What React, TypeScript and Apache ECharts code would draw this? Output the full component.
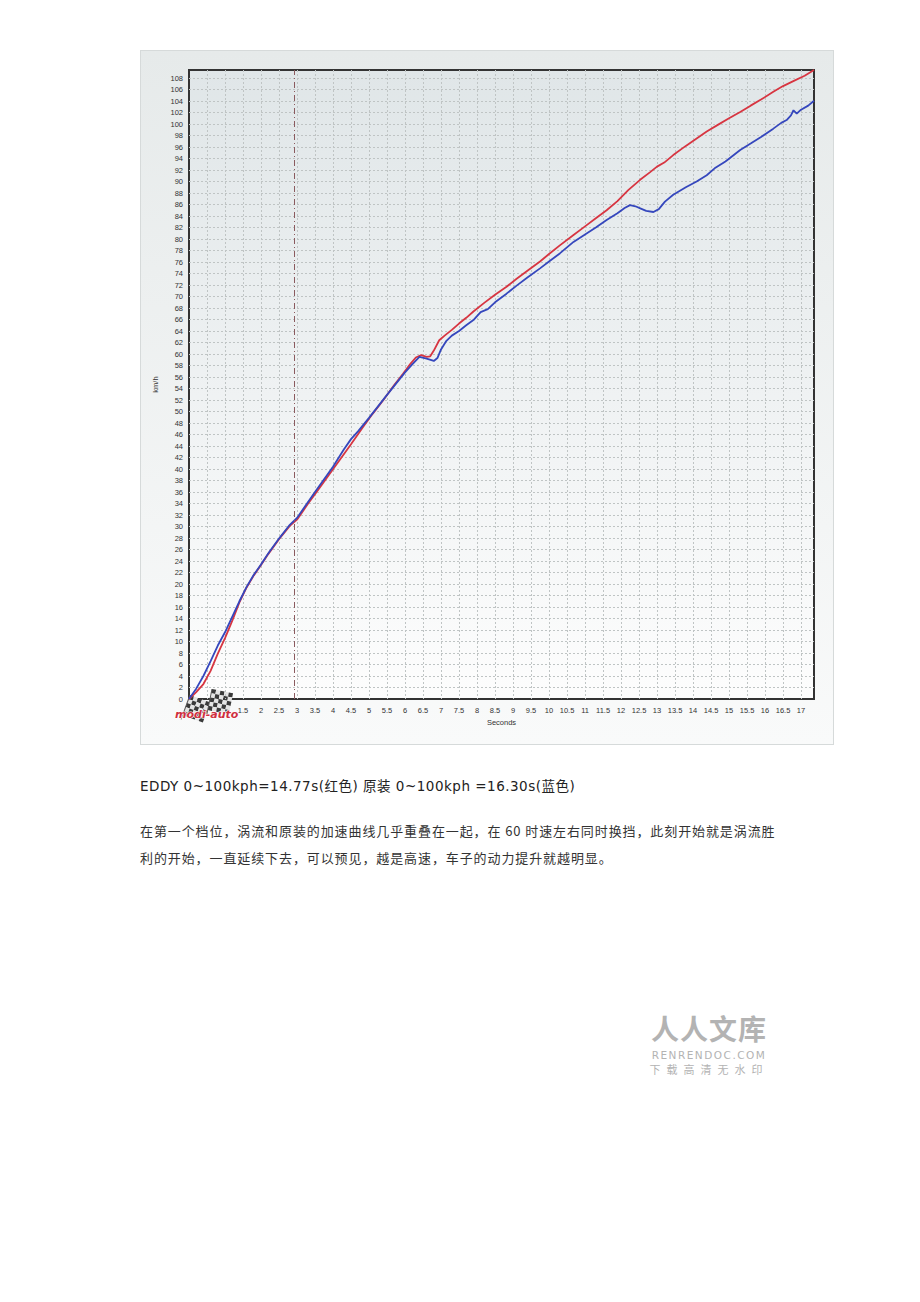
import React, { useEffect, useRef } from "react";
import * as echarts from "echarts";

// ---- data (seconds, km/h) ----
const eddyTimes = [0, 0.2, 0.4, 0.6, 0.8, 1.0, 1.2, 1.4, 1.6, 1.8, 2.0, 2.2, 2.5, 2.8, 3.0, 3.3, 3.6, 3.9, 4.2, 4.5, 4.8, 5.1, 5.4, 5.7, 5.95, 6.15, 6.3, 6.45, 6.6, 6.7, 6.8, 6.95, 7.1, 7.3, 7.5, 7.7, 7.9, 8.2, 8.5, 8.82, 9.1, 9.4, 9.75, 10.0, 10.3, 10.68, 11.0, 11.3, 11.6, 11.9, 12.2, 12.53, 12.8, 13.0, 13.2, 13.45, 13.8, 14.1, 14.38, 14.7, 15.0, 15.31, 15.6, 15.9, 16.23, 16.5, 16.8, 17.1, 17.36];
const eddySpeeds = [0, 1.2, 2.6, 4.9, 7.9, 10.6, 13.6, 16.8, 19.4, 21.5, 23.3, 25.2, 27.8, 30.1, 31.2, 33.9, 36.5, 39.1, 41.7, 44.3, 47.0, 49.6, 52.0, 54.6, 56.6, 58.3, 59.4, 59.8, 59.5, 59.6, 60.6, 62.4, 63.2, 64.2, 65.3, 66.3, 67.4, 68.9, 70.3, 71.7, 73.1, 74.5, 76.1, 77.4, 78.9, 80.7, 82.2, 83.6, 85.0, 86.6, 88.5, 90.3, 91.6, 92.6, 93.3, 94.6, 96.2, 97.5, 98.7, 99.9, 101.0, 102.1, 103.2, 104.3, 105.6, 106.6, 107.5, 108.4, 109.4];

const stockTimes = [0, 0.2, 0.4, 0.6, 0.8, 1.0, 1.2, 1.4, 1.6, 1.8, 2.0, 2.2, 2.5, 2.8, 3.0, 3.5, 4.0, 4.3, 4.5, 4.7, 5.0, 5.5, 6.0, 6.2, 6.4, 6.6, 6.8, 6.9, 7.0, 7.15, 7.3, 7.5, 7.7, 7.9, 8.1, 8.3, 8.5, 8.82, 9.1, 9.4, 9.75, 10.0, 10.3, 10.68, 11.0, 11.3, 11.6, 11.9, 12.1, 12.25, 12.4, 12.55, 12.7, 12.9, 13.05, 13.22, 13.45, 13.8, 14.1, 14.38, 14.6, 14.9, 15.31, 15.6, 15.9, 16.23, 16.45, 16.6, 16.72, 16.79, 16.88, 17.0, 17.2, 17.36];
const stockSpeeds = [0, 1.8, 4.0, 6.6, 9.3, 11.6, 14.3, 17.0, 19.5, 21.6, 23.4, 25.3, 27.9, 30.3, 31.5, 36.0, 40.4, 43.4, 45.2, 46.6, 48.9, 52.9, 56.8, 58.2, 59.5, 59.2, 58.8, 59.3, 60.8, 62.3, 63.2, 64.0, 65.0, 65.9, 67.3, 67.8, 69.0, 70.5, 71.9, 73.3, 74.9, 76.1, 77.5, 79.5, 80.8, 82.0, 83.3, 84.5, 85.4, 85.9, 85.7, 85.3, 84.9, 84.7, 85.2, 86.5, 87.7, 89.0, 90.0, 91.1, 92.3, 93.5, 95.5, 96.6, 97.8, 99.2, 100.2, 100.7, 101.5, 102.4, 101.8, 102.5, 103.2, 104.05];

const shiftMarker = 2.92;
const xMax = 17.36;
const yMax = 109.4;
const firstVisibleXLabel = 1.5;

const captionLine = "EDDY 0~100kph=14.77s(红色) 原装 0~100kph =16.30s(蓝色)";
const bodyLines = [
  "在第一个档位，涡流和原装的加速曲线几乎重叠在一起，在 60 时速左右同时换挡，此刻开始就是涡流胜",
  "利的开始，一直延续下去，可以预见，越是高速，车子的动力提升就越明显。",
];

function zip(ts: number[], vs: number[]) {
  return ts.map((t, i) => [t, vs[i]]);
}

function checker(x: number, y: number, rot: number) {
  const children: any[] = [];
  const s = 4.3;
  for (let r = 0; r < 5; r++) {
    for (let c = 0; c < 5; c++) {
      children.push({
        type: "rect",
        shape: { x: c * s, y: r * s, width: s, height: s },
        style: { fill: (r + c) % 2 === 0 ? "#3a3a3a" : "#e4e4e4" },
      });
    }
  }
  children.push({ type: "line", shape: { x1: 0, y1: 0, x2: 0, y2: 26 }, style: { stroke: "#555", lineWidth: 1 } });
  return { type: "group", x, y, rotation: rot, children, z: 100 };
}

export default function App() {
  const ref = useRef<HTMLDivElement>(null);
  useEffect(() => {
    if (!ref.current) return;
    const chart = echarts.init(ref.current, null, { renderer: "svg" });
    const labelStyle = { fontSize: 7.5, color: "#333", fontFamily: "Liberation Sans, Arial, sans-serif" };
    const split = { show: true, showMinLine: false, showMaxLine: false, lineStyle: { color: "#bfc4c4", type: [2, 2], width: 1 } };
    chart.setOption({
      animation: false,
      backgroundColor: "transparent",
      grid: {
        left: 49,
        top: 20,
        right: 20,
        bottom: 46,
        show: true,
        borderColor: "#333",
        borderWidth: 2,
        backgroundColor: {
          type: "linear", x: 0, y: 0, x2: 0, y2: 1,
          colorStops: [
            { offset: 0, color: "#e0e6e8" },
            { offset: 1, color: "#fdfdfd" },
          ],
        },
      },
      xAxis: {
        type: "value",
        min: 0,
        max: xMax,
        interval: 0.5,
        name: "Seconds",
        nameLocation: "middle",
        nameGap: 18,
        nameTextStyle: { ...labelStyle },
        axisLine: { show: false },
        axisTick: { show: false },
        axisLabel: {
          ...labelStyle,
          margin: 7,
          showMaxLabel: false,
          formatter: (v: number) => (v < firstVisibleXLabel ? "" : String(v)),
        },
        splitLine: split,
      },
      yAxis: {
        type: "value",
        min: 0,
        max: yMax,
        interval: 2,
        name: "km/h",
        nameLocation: "middle",
        nameGap: 22,
        nameRotate: 90,
        nameTextStyle: { ...labelStyle },
        axisLine: { show: false },
        axisTick: { show: false },
        axisLabel: { ...labelStyle, margin: 6, showMaxLabel: false },
        splitLine: split,
      },
      series: [
        {
          name: "原装",
          type: "line",
          data: zip(stockTimes, stockSpeeds),
          showSymbol: false,
          lineStyle: { color: "#3547bd", width: 1.8 },
          z: 3,
        },
        {
          name: "EDDY",
          type: "line",
          data: zip(eddyTimes, eddySpeeds),
          showSymbol: false,
          lineStyle: { color: "#d73541", width: 1.8 },
          z: 2,
          markLine: {
            silent: true,
            symbol: "none",
            label: { show: false },
            lineStyle: { color: "#8a5a5e", width: 1, type: [6, 3, 1, 3] },
            data: [{ xAxis: shiftMarker }],
          },
        },
      ],
      graphic: [
        checker(50, 645, -0.35),
        checker(72, 639, -0.2),
        {
          type: "text",
          x: 35,
          y: 659,
          z: 101,
          style: {
            text: "modi-auto",
            font: "italic bold 11px 'DejaVu Sans', sans-serif",
            fill: "#d0303f",
            stroke: "#ffffff",
            lineWidth: 1.2,
          },
        },
      ],
    });
    return () => chart.dispose();
  }, []);

  const wm = { position: "absolute" as const, left: 646, width: 126, textAlign: "center" as const, color: "#b3b3b3", whiteSpace: "nowrap" as const };

  return (
    <div style={{ position: "absolute", left: 0, top: 0, width: 920, height: 1302, background: "#fff" }}>
      <div
        style={{
          position: "absolute",
          left: 140,
          top: 50,
          width: 694,
          height: 695,
          boxSizing: "border-box",
          border: "1px solid #d6dada",
          background: "linear-gradient(#e6eaea, #f9fafa)",
        }}
      >
        <div ref={ref} style={{ position: "absolute", left: -1, top: -1, width: 694, height: 695 }} />
      </div>
      <div
        style={{
          position: "absolute",
          left: 140,
          top: 775,
          fontSize: 13.5,
          letterSpacing: 0.5,
          color: "#222",
          whiteSpace: "nowrap",
          fontFamily: "'DejaVu Sans', 'Noto Sans CJK SC', sans-serif",
        }}
      >
        {captionLine}
      </div>
      {bodyLines.map((line, i) => (
        <div
          key={i}
          style={{
            position: "absolute",
            left: 140,
            top: 821 + i * 27,
            fontSize: 13,
            letterSpacing: 0.9,
            color: "#333",
            whiteSpace: "nowrap",
            fontFamily: "'Noto Sans CJK SC', 'DejaVu Sans', sans-serif",
          }}
        >
          {line}
        </div>
      ))}
      <div style={{ ...wm, top: 1013, fontSize: 28, lineHeight: "30px", letterSpacing: 1, fontWeight: 700, fontFamily: "'Noto Sans CJK SC', sans-serif" }}>人人文库</div>
      <div style={{ ...wm, top: 1050, fontSize: 10.5, lineHeight: "11px", letterSpacing: 1.5, fontFamily: "'DejaVu Sans', sans-serif" }}>RENRENDOC.COM</div>
      <div style={{ ...wm, top: 1063, fontSize: 11, lineHeight: "13px", letterSpacing: 6, fontFamily: "'Noto Sans CJK SC', sans-serif" }}>下载高清无水印</div>
    </div>
  );
}
